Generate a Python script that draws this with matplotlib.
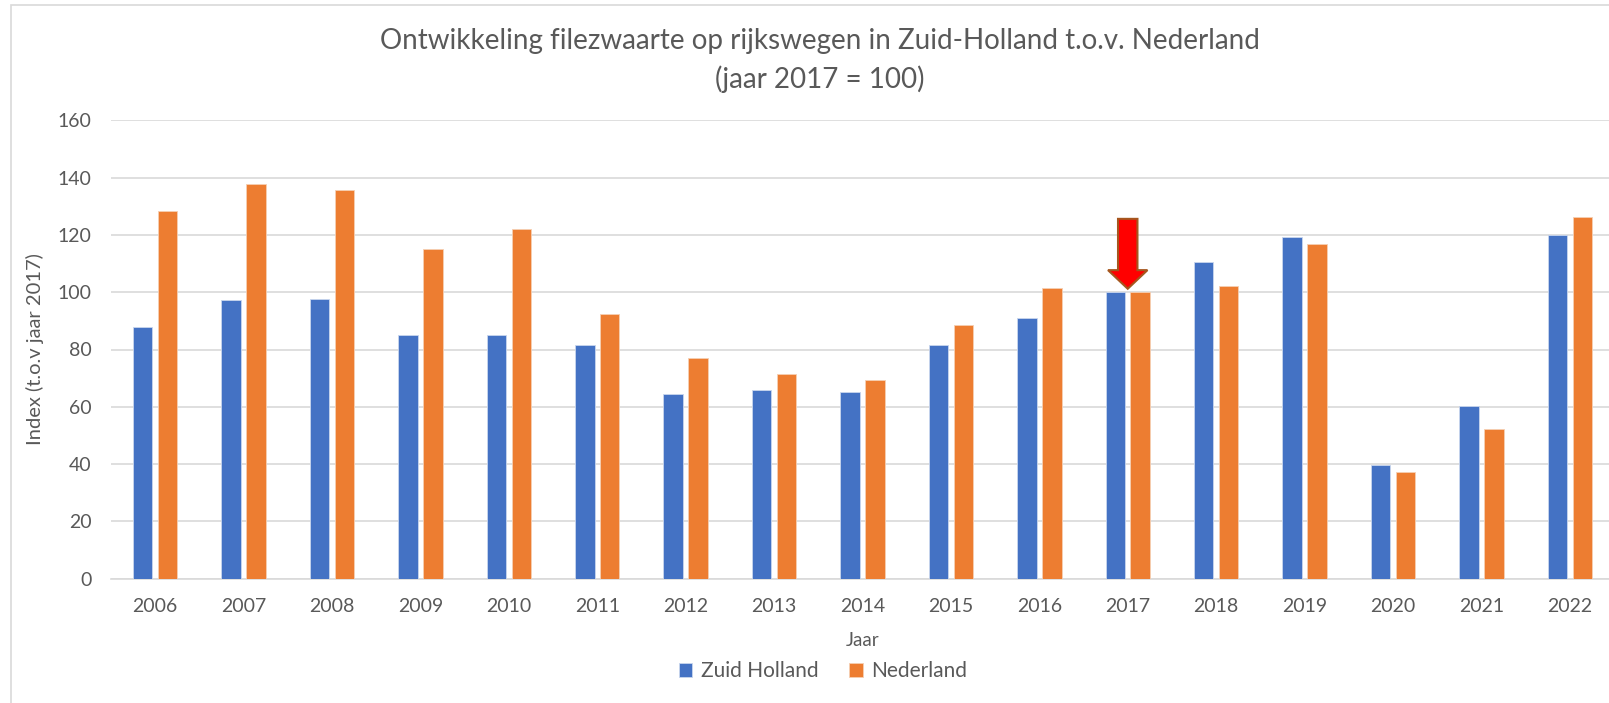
import numpy as np
import matplotlib.pyplot as plt
from matplotlib.patches import FancyArrow, Rectangle

plt.rcParams['font.family'] = ['Lato', 'DejaVu Sans']

# data
years = ["2006", "2007", "2008", "2009", "2010", "2011", "2012", "2013", "2014",
         "2015", "2016", "2017", "2018", "2019", "2020", "2021", "2022"]
zuid_holland = [88.0, 97.3, 97.6, 85.0, 85.1, 81.4, 64.3, 65.8, 65.0,
                81.5, 90.9, 100.0, 110.7, 119.1, 39.6, 60.3, 120.0]
nederland = [128.2, 137.9, 135.6, 115.2, 121.9, 92.3, 77.2, 71.3, 69.5,
             88.6, 101.6, 100.0, 102.1, 116.7, 37.2, 52.3, 126.3]
y_ticks = [0, 20, 40, 60, 80, 100, 120, 140, 160]
ref_year = "2017"

text_col = "#595959"
blue = "#4472C4"
orange = "#ED7D31"

W, H = 1609, 703
fig = plt.figure(figsize=(W / 100, H / 100), dpi=100)
ax = fig.add_axes([111 / W, 124.3 / H, (1614 - 111) / W, 458.4 / H])

x = np.arange(len(years))
bw = 0.22
off = 0.141
ax.bar(x - off, zuid_holland, bw, color=blue, label="Zuid Holland", zorder=3,
       edgecolor="#c9d6ee", linewidth=0.6)
ax.bar(x + off, nederland, bw, color=orange, label="Nederland", zorder=3,
       edgecolor="#f6cfb3", linewidth=0.6)

ax.set_xlim(-0.5, len(years) - 0.5)
ax.set_ylim(0, 160)
ax.set_yticks(y_ticks)
ax.set_xticks(x)
ax.set_xticklabels(years)
ax.grid(axis="y", color="#D9D9D9", linewidth=1.2, zorder=0)
ax.set_axisbelow(True)
for s in ["top", "right", "left"]:
    ax.spines[s].set_visible(False)
ax.spines["bottom"].set_color("#D9D9D9")
ax.spines["bottom"].set_linewidth(1.2)
ax.tick_params(axis="both", length=0, labelsize=14, labelcolor=text_col)
ax.tick_params(axis="y", pad=14)
ax.tick_params(axis="x", pad=14)

ax.set_xlabel("Jaar", fontsize=13.5, color=text_col, labelpad=12)
ax.set_ylabel("Index (t.o.v jaar 2017)", fontsize=14.5, color=text_col, labelpad=10)

# red arrow pointing at the reference year
xi = years.index(ref_year)
ax.add_patch(FancyArrow(xi, 125.6, 0, -24.4, width=0.22, head_width=0.446,
                        head_length=6.5, length_includes_head=True,
                        facecolor="#FF0000", edgecolor="#A5561E", linewidth=1.5,
                        zorder=5))

fig.text(820 / W, 1 - 41 / H, "Ontwikkeling filezwaarte op rijkswegen in Zuid-Holland t.o.v. Nederland",
         ha="center", va="center", fontsize=20, color=text_col)
fig.text(820 / W, 1 - 79 / H, "(jaar 2017 = 100)",
         ha="center", va="center", fontsize=20, color=text_col)

leg = fig.legend(loc="center", bbox_to_anchor=(823 / W, 1 - 671 / H), ncol=2, frameon=False,
                 fontsize=15, handlelength=0.65, handleheight=0.65, handletextpad=0.4,
                 columnspacing=1.5)
for t in leg.get_texts():
    t.set_color(text_col)

# chart area border (cropped on right and bottom)
fig.patches.append(Rectangle((11 / W, -0.05), 1.2, 1 - 5 / H + 0.05, transform=fig.transFigure,
                             fill=False, edgecolor="#D9D9D9", linewidth=1.2))

fig.savefig("out.png", dpi=100)
